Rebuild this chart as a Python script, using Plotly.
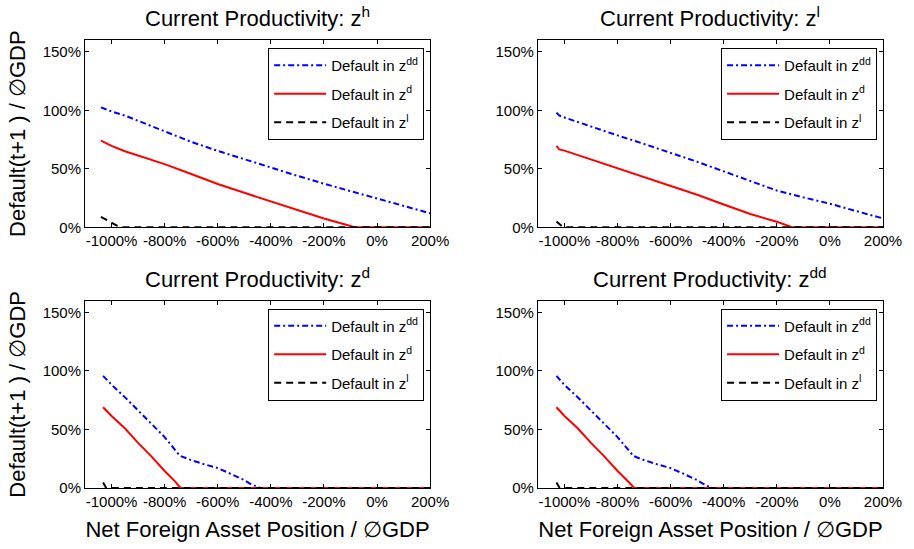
import plotly.graph_objects as go

FONT = "Liberation Sans, Arial, sans-serif"

# ---------------- data (percent of average GDP) ----------------
x_tick_vals = [-1000, -800, -600, -400, -200, 0, 200]
x_tick_text = ["-1000%", "-800%", "-600%", "-400%", "-200%", "0%", "200%"]
y_tick_vals = [0, 50, 100, 150]
y_tick_text = ["0%", "50%", "100%", "150%"]

panel_titles = [
    "Current Productivity: z<sup>h</sup>",
    "Current Productivity: z<sup>l</sup>",
    "Current Productivity: z<sup>d</sup>",
    "Current Productivity: z<sup>dd</sup>",
]
series_names = ["Default in z<sup>dd</sup>", "Default in z<sup>d</sup>", "Default in z<sup>l</sup>"]
y_title = "Default(t+1 ) / \u2205GDP"
x_title = "Net Foreign Asset Position / \u2205GDP"

# Panel 1: current productivity z^h
zh_dd_x = [-1040, -1000, -950, -900, -800, -700, -600, -500, -400, -300, -200, -100, 0, 100, 200]
zh_dd_y = [102.5, 99.0, 95.5, 91.0, 81.5, 73.0, 65.3, 58.0, 51.0, 44.0, 37.3, 31.0, 25.0, 18.5, 12.0]
zh_d_x = [-1040, -1000, -950, -900, -800, -700, -600, -500, -400, -300, -200, -100, -85, 0, 100, 200]
zh_d_y = [74.0, 69.5, 65.0, 61.5, 54.0, 45.5, 37.0, 29.5, 22.0, 14.5, 7.5, 1.2, 0, 0, 0, 0]
zh_l_x = [-1040, -1020, -1000, -980, -960, -600, -200, 200]
zh_l_y = [9.0, 6.5, 3.5, 1.5, 0, 0, 0, 0]

# Panel 2: current productivity z^l
zl_dd_x = [-1030, -1020, -1000, -900, -800, -700, -600, -500, -400, -300, -200, -100, 0, 100, 200]
zl_dd_y = [98.0, 95.5, 93.8, 86.0, 78.5, 71.2, 63.8, 56.0, 47.8, 39.6, 31.4, 25.6, 20.2, 13.8, 7.6]
zl_d_x = [-1030, -1020, -1000, -900, -800, -700, -600, -500, -400, -300, -200, -140, 0, 100, 200]
zl_d_y = [69.7, 66.5, 65.5, 58.0, 50.6, 43.2, 35.8, 27.8, 19.5, 11.4, 4.7, 0, 0, 0, 0]
zl_l_x = [-1030, -1005, -600, -200, 200]
zl_l_y = [5.0, 0, 0, 0, 0]

# Panel 3: current productivity z^d
zd_dd_x = [-1032, -1000, -950, -900, -850, -800, -743, -700, -650, -600, -550, -500, -476, -440, -200, 0, 200]
zd_dd_y = [95.8, 88.2, 77.6, 66.0, 55.1, 43.5, 27.5, 23.8, 20.2, 17.0, 12.0, 6.7, 3.4, 0, 0, 0, 0]
zd_d_x = [-1032, -1000, -950, -900, -850, -800, -760, -740, -400, 0, 200]
zd_d_y = [69.0, 61.5, 51.0, 38.5, 27.0, 14.5, 5.5, 0, 0, 0, 0]
zd_l_x = [-1032, -1020, -600, -200, 200]
zd_l_y = [4.7, 0, 0, 0, 0]

# Panel 4: current productivity z^dd
zdd_dd_x = [-1030, -1000, -950, -900, -850, -800, -740, -700, -650, -600, -550, -500, -476, -445, -200, 0, 200]
zdd_dd_y = [95.8, 88.0, 77.5, 66.0, 55.0, 43.5, 27.3, 23.8, 20.2, 17.0, 12.0, 6.7, 3.4, 0, 0, 0, 0]
zdd_d_x = [-1030, -1000, -950, -900, -850, -800, -760, -737, -400, 0, 200]
zdd_d_y = [69.0, 61.5, 51.0, 38.5, 27.0, 14.5, 5.5, 0, 0, 0, 0]
zdd_l_x = [-1030, -1018, -600, -200, 200]
zdd_l_y = [4.7, 0, 0, 0, 0]

panels = [
    [(zh_dd_x, zh_dd_y), (zh_d_x, zh_d_y), (zh_l_x, zh_l_y)],
    [(zl_dd_x, zl_dd_y), (zl_d_x, zl_d_y), (zl_l_x, zl_l_y)],
    [(zd_dd_x, zd_dd_y), (zd_d_x, zd_d_y), (zd_l_x, zd_l_y)],
    [(zdd_dd_x, zdd_dd_y), (zdd_d_x, zdd_d_y), (zdd_l_x, zdd_l_y)],
]

# ---------------- styling ----------------
line_styles = [
    dict(color="#0000ff", width=2, dash="6px,3px,2px,3px"),
    dict(color="#ff0000", width=2, dash="solid"),
    dict(color="#000000", width=2, dash="7px,5px"),
]

W, H = 914, 549
PL, PR, PT, PB = 85, 892, 40, 492           # pixels of outer plot box
ML, MT, MR, MB = PL, PT, W - PR, H - PB
PW, PH = W - ML - MR, H - MT - MB

def px_x(p):
    return (p - ML) / PW

def px_y(p):
    return (H - MB - p) / PH

x_domains = [[0, px_x(434)], [px_x(543), 1], [0, px_x(434)], [px_x(543), 1]]
y_domains = [[px_y(229), 1], [px_y(229), 1], [0, px_y(303)], [0, px_y(303)]]
legend_names = ["legend", "legend2", "legend3", "legend4"]
legend_pos = [(px_x(428), px_y(48)), (px_x(886), px_y(48)),
              (px_x(428), px_y(311)), (px_x(886), px_y(311))]

fig = go.Figure()
for i, panel in enumerate(panels):
    sfx = "" if i == 0 else str(i + 1)
    for j, (xs, ys) in enumerate(panel):
        fig.add_trace(go.Scatter(
            x=xs, y=ys, mode="lines", name=series_names[j],
            line=line_styles[j], xaxis="x" + sfx, yaxis="y" + sfx,
            legend=legend_names[i], legendgroup="g%d_%d" % (i, j),
            hoverinfo="skip",
        ))

axis_common = dict(
    showline=True, linecolor="black", linewidth=1, mirror="allticks",
    ticks="inside", ticklen=4, tickwidth=1, tickcolor="black",
    showgrid=False, zeroline=False,
    tickfont=dict(family=FONT, size=15, color="black"),
)

layout = dict(
    width=W, height=H,
    margin=dict(l=ML, r=MR, t=MT, b=MB),
    paper_bgcolor="white", plot_bgcolor="white",
    font=dict(family=FONT, color="black"),
    showlegend=True,
)

annotations = []
for i in range(4):
    sfx = "" if i == 0 else str(i + 1)
    xa = dict(axis_common, domain=x_domains[i], range=[-1100, 200],
              tickmode="array", tickvals=x_tick_vals, ticktext=x_tick_text,
              anchor="y" + sfx)
    ya = dict(axis_common, domain=y_domains[i], range=[0, 160],
              tickmode="array", tickvals=y_tick_vals, ticktext=y_tick_text,
              anchor="x" + sfx)
    if i in (0, 2):
        ya["title"] = dict(text=y_title,
                           font=dict(family=FONT, size=22, color="black"),
                           standoff=10)
    if i in (2, 3):
        xa["title"] = dict(text=x_title,
                           font=dict(family=FONT, size=22, color="black"),
                           standoff=12)
    layout["xaxis" + sfx] = xa
    layout["yaxis" + sfx] = ya
    lx, ly = legend_pos[i]
    layout[legend_names[i]] = dict(
        x=lx, y=ly, xanchor="right", yanchor="top",
        bgcolor="white", bordercolor="black", borderwidth=1,
        font=dict(family=FONT, size=15, color="black"),
        traceorder="grouped", tracegroupgap=6, itemwidth=52,
    )
    annotations.append(dict(
        text=panel_titles[i], xref="paper", yref="paper",
        x=(x_domains[i][0] + x_domains[i][1]) / 2, y=y_domains[i][1],
        xanchor="center", yanchor="bottom", yshift=7, showarrow=False,
        font=dict(family=FONT, size=22, color="black"),
    ))

layout["annotations"] = annotations
fig.update_layout(**layout)
fig.write_html("out.html", config={"displayModeBar": False, "staticPlot": True},
               post_script="document.body.style.margin='0px';")
